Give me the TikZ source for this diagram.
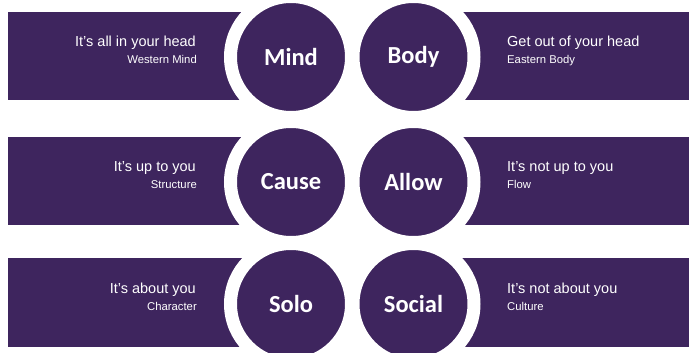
\documentclass[tikz,border=0pt]{standalone}
\usepackage{fontspec}
\setmainfont{Liberation Sans}
\newfontfamily\discfont{Carlito}
\definecolor{plum}{RGB}{62,37,94}

\begin{document}
\begin{tikzpicture}[x=1pt,y=-1pt,
  band/.style={fill=plum},
  disc/.style={circle,fill=plum,draw=white,line width=13pt,minimum size=121pt,
    inner sep=0pt,text=white,font=\discfont\bfseries\fontsize{24.5}{28}\selectfont},
  headL/.style={anchor=base east,text=white,inner sep=0pt,font=\fontsize{14.5}{17}\selectfont},
  subL/.style={anchor=base east,text=white,inner sep=0pt,font=\fontsize{11.3}{13}\selectfont},
  headR/.style={anchor=base west,text=white,inner sep=0pt,font=\fontsize{14.5}{17}\selectfont},
  subR/.style={anchor=base west,text=white,inner sep=0pt,font=\fontsize{11.3}{13}\selectfont}]
  \useasboundingbox (0,0) rectangle (689,353);
  \clip (0,0) rectangle (689,353);

  % bands behind the discs
  \fill[band] (8,12) rectangle (291,100);
  \fill[band] (413.5,12) rectangle (689,100);
  \fill[band] (8,137) rectangle (291,225);
  \fill[band] (413.5,137) rectangle (689,225);
  \fill[band] (8,258) rectangle (291,347);
  \fill[band] (413.5,258) rectangle (689,347);

  % discs with white rings
  \node[disc] (mind)   at (291,57)    {Mind};
  \node[disc] (body)   at (413.5,57)  {Body};
  \node[disc] (cause)  at (291,182)   {Cause};
  \node[disc] (allow)  at (413.5,182) {Allow};
  \node[disc] (solo)   at (291,304)   {Solo};
  \node[disc] (social) at (413.5,304) {Social};

  % left captions
  \node[headL] (t1) at (196,46.5)  {It’s all in your head};
  \node[subL]  (s1) at (197,64)    {Western Mind};
  \node[headL] (t2) at (196,171.5) {It’s up to you};
  \node[subL]  (s2) at (197,189)   {Structure};
  \node[headL] (t3) at (196,293)   {It’s about you};
  \node[subL]  (s3) at (197,310.5) {Character};

  % right captions
  \node[headR] (t4) at (507,46.5)  {Get out of your head};
  \node[subR]  (s4) at (507,64)    {Eastern Body};
  \node[headR] (t5) at (507,171.5) {It’s not up to you};
  \node[subR]  (s5) at (507,189)   {Flow};
  \node[headR] (t6) at (507,293)   {It’s not about you};
  \node[subR]  (s6) at (507,310.5) {Culture};
\end{tikzpicture}
\end{document}
